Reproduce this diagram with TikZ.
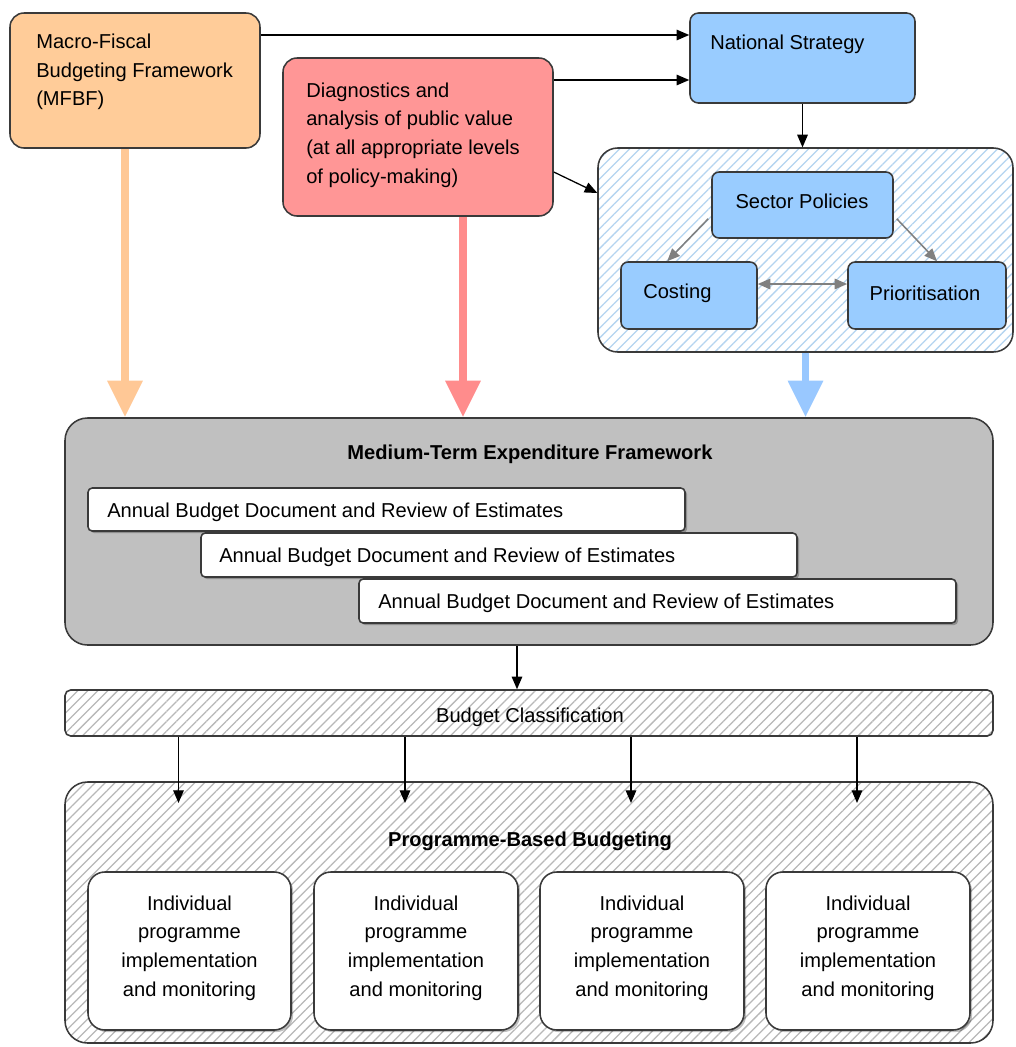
\documentclass[tikz,border=0pt]{standalone}
\usepackage{fontspec}
\setmainfont{Liberation Sans}
\usetikzlibrary{arrows.meta,fit,calc,patterns.meta,shadows}
\definecolor{edge}{HTML}{3A3A3A}
\definecolor{orangef}{HTML}{FFCC99}
\definecolor{orangea}{HTML}{FFC896}
\definecolor{pinkf}{HTML}{FF9696}
\definecolor{pinka}{HTML}{FF8C8C}
\definecolor{bluef}{HTML}{99CCFF}
\definecolor{bluea}{HTML}{99C8FF}
\definecolor{hatchb}{HTML}{B4D4F0}
\definecolor{hatchg}{HTML}{B8B8B8}
\definecolor{greyf}{HTML}{C0C0C0}
\newcommand\fs{\fontsize{14.3}{20.3}\selectfont}
\begin{document}
\begin{tikzpicture}[x=0.025cm,y=-0.025cm,
  box/.style={draw=edge, line width=1.1pt, inner sep=0pt, rounded corners=#1},
  box/.default=6pt,
  txt/.style={font=\fs, inner sep=0pt, align=#1},
  txt/.default=center,
  hatchblue/.style={preaction={fill=white}, pattern={Lines[angle=45,distance=5pt,line width=0.9pt]}, pattern color=hatchb},
  hatchgrey/.style={preaction={fill=white}, pattern={Lines[angle=45,distance=5pt,line width=0.9pt]}, pattern color=hatchg},
  shad/.style={drop shadow={shadow xshift=1.5pt, shadow yshift=-1.5pt, fill=black, opacity=0.25}},
  arr/.style={-{Triangle[length=9pt,width=7.5pt]}, line width=0.9pt, draw=black},
  garr/.style={-{Triangle[length=9pt,width=7.5pt]}, line width=1.1pt, draw=gray},
  big/.style={-{Triangle[length=26pt,width=24pt]}, line width=5pt, draw=#1},
]
\useasboundingbox (0,0) rectangle (1015,1047);

\coordinate (c35) at (0,35);
\coordinate (c80) at (0,80);
\coordinate (c172) at (0,172);
\coordinate (c193) at (0,193);
\coordinate (c284) at (0,284);
\coordinate (c803) at (0,803);

% top boxes
\node[box=10pt, fill=orangef, fit={(10,13)(260,148)}] (mfbf) {};
\node[txt=left, anchor=west] (mfbft) at (36,72) {Macro-Fiscal\\Budgeting Framework\\(MFBF)};

\node[box=10pt, fill=pinkf, fit={(283,58)(553,216)}] (diag) {};
\node[txt=left, anchor=west] (diagt) at (306,135) {Diagnostics and\\analysis of public value\\(at all appropriate levels\\of policy-making)};

\node[box=6pt, fill=bluef, fit={(690,13)(915,103)}] (ns) {};
\node[txt=left, anchor=west] (nst) at (710,44) {National Strategy};

\node[box=14pt, hatchblue, fit={(598,148)(1013,352)}] (sec) {};
\node[box=5pt, fill=bluef, fit={(712,172)(893,238)}] (sp) {};
\node[txt] (spt) at (802,201) {Sector Policies};
\node[box=5pt, fill=bluef, fit={(621,262)(757,329)}] (cost) {};
\node[txt, anchor=west] (costt) at (643,293) {Costing};
\node[box=5pt, fill=bluef, fit={(848,262)(1006,329)}] (prio) {};
\node[txt] (priot) at (925,293) {Prioritisation};

% MTEF
\node[box=16pt, fill=greyf, fit={(65,418)(993,645)}] (mtef) {};
\node[txt, font=\fs\bfseries] (mteft) at (530,454) {Medium-Term Expenditure Framework};
\node[box=3pt, fill=white, shad, fit={(88,488)(685,531)}] (a1) {};
\node[txt, anchor=west] (a1t) at (107,512) {Annual Budget Document and Review of Estimates};
\node[box=3pt, fill=white, shad, fit={(201,533)(797,577)}] (a2) {};
\node[txt, anchor=west] (a2t) at (219,557) {Annual Budget Document and Review of Estimates};
\node[box=3pt, fill=white, shad, fit={(359,579)(956,623)}] (a3) {};
\node[txt, anchor=west] (a3t) at (378,603) {Annual Budget Document and Review of Estimates};

% Budget classification
\node[box=4pt, hatchgrey, fit={(65,690)(993,736)}] (bc) {};
\node[txt] (bct) at (530,717) {Budget Classification};

% PBB
\node[box=16pt, hatchgrey, fit={(65,782)(993,1043)}] (pbb) {};
\node[txt, font=\fs\bfseries] (pbbt) at (530,841) {Programme-Based Budgeting};
\foreach \i/\xa/\xb in {1/88/291, 2/314/518, 3/540/744, 4/766/970}{
  \node[box=12pt, fill=white, shad, fit={(\xa,872)(\xb,1030)}] (ind\i) {};
  \node[txt] (ind\i t) at ($(ind\i.center)+(0,-3)$) {Individual\\programme\\implementation\\and monitoring};
}

% connectors
\draw[arr] (mfbf.east |- c35) -- (ns.west |- c35);
\draw[arr] (diag.east |- c80) -- (ns.west |- c80);
\draw[arr] (diag.east |- c172) -- (sec.west |- c193);
\draw[arr] (ns.south) -- (ns.south |- sec.north);

\draw[garr] ($(sp.south west)+(-3,-20)$) -- ($(cost.north west)+(47,0)$);
\draw[garr] ($(sp.south east)+(3,-20)$) -- ($(prio.north)+(10,0)$);
\draw[garr, {Triangle[length=9pt,width=7.5pt]}-{Triangle[length=9pt,width=7.5pt]}] (cost.east |- c284) -- (prio.west |- c284);

\draw[big=orangea] ($(mfbf.south)+(-10,0)$) coordinate (o1) -- (o1 |- mtef.north);
\draw[big=pinka] ($(diag.south)+(45,0)$) coordinate (p1) -- (p1 |- mtef.north);
\draw[big=bluea] (sec.south) -- (sec.south |- mtef.north);

\draw[arr] ($(mtef.south)+(-12,0)$) coordinate (m1) -- (m1 |- bc.north);
\foreach \i in {1,2,3,4}{
  \path ($(ind\i.north)+(-11,0)$) coordinate (t\i);
  \draw[arr] (t\i |- bc.south) -- (t\i |- c803);
}
\end{tikzpicture}
\end{document}
